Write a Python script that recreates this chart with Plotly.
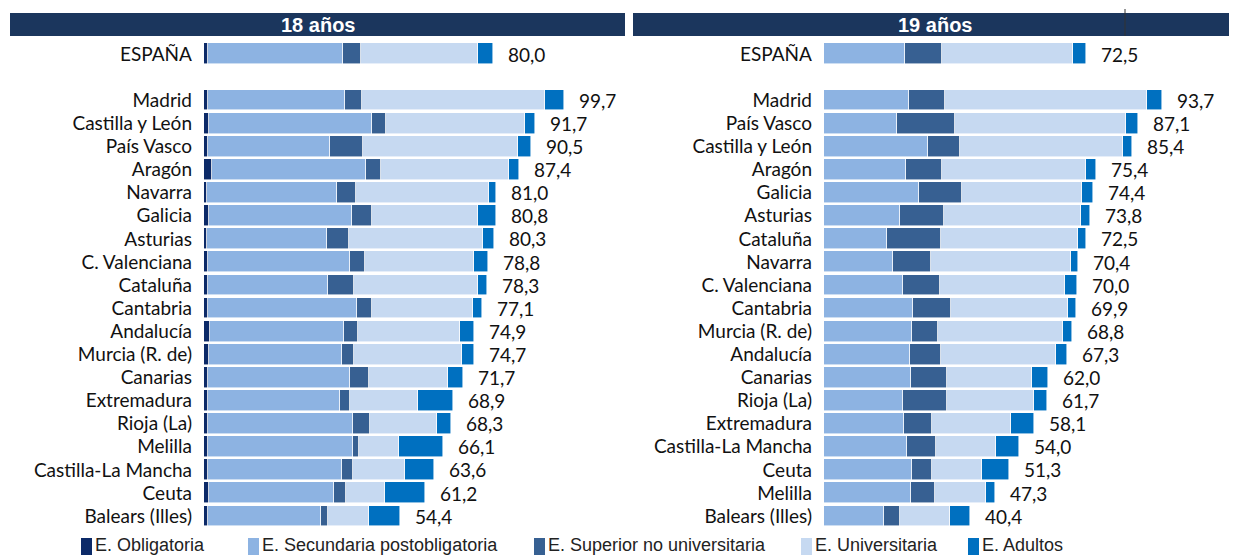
import plotly.graph_objects as go

# the page puts the figure 8px in from the top-left corner
OFF = 8
W, H = 1237 - OFF, 556 - OFF

# series / legend
segments = ["E. Obligatoria", "E. Secundaria postobligatoria", "E. Superior no universitaria",
            "E. Universitaria", "E. Adultos"]
colors = ["#0c2a68", "#8db3e2", "#376092", "#c6d9f1", "#0070c0"]

# 18 años
regions_18 = ["ESPAÑA", "Madrid", "Castilla y León", "País Vasco", "Aragón", "Navarra", "Galicia",
              "Asturias", "C. Valenciana", "Cataluña", "Cantabria", "Andalucía", "Murcia (R. de)",
              "Canarias", "Extremadura", "Rioja (La)", "Melilla", "Castilla-La Mancha", "Ceuta",
              "Balears (Illes)"]
oblig_18 = [1.2, 1.0, 1.3, 1.0, 2.3, 0.8, 1.4, 0.9, 1.2, 1.1, 1.2, 1.6, 1.5, 1.0, 1.1, 1.0, 1.0, 1.2, 1.4, 1.1]
sec_18 = [37.2, 38.1, 45.2, 34.0, 42.7, 36.0, 39.5, 33.1, 39.2, 33.3, 41.2, 37.1, 36.6, 39.5, 36.5, 40.3,
          40.2, 36.9, 34.7, 31.4]
sup_18 = [5.2, 4.7, 3.8, 9.1, 4.1, 5.3, 5.7, 6.2, 4.1, 7.1, 4.1, 3.9, 3.4, 5.3, 2.8, 4.7, 1.8, 3.2, 3.3, 1.8]
uni_18 = [32.2, 50.7, 38.6, 43.0, 35.4, 36.8, 29.4, 37.1, 30.3, 34.3, 28.1, 28.3, 29.9, 21.7, 18.8, 18.5,
          11.0, 14.4, 10.8, 11.3]
adu_18 = [4.2, 5.2, 2.8, 3.4, 2.9, 2.1, 4.8, 3.0, 4.0, 2.5, 2.5, 4.0, 3.3, 4.2, 9.7, 3.8, 12.1, 7.9, 11.0, 8.8]
total_18 = [80.0, 99.7, 91.7, 90.5, 87.4, 81.0, 80.8, 80.3, 78.8, 78.3, 77.1, 74.9, 74.7, 71.7, 68.9, 68.3,
            66.1, 63.6, 61.2, 54.4]

# 19 años
regions_19 = ["ESPAÑA", "Madrid", "País Vasco", "Castilla y León", "Aragón", "Galicia", "Asturias",
              "Cataluña", "Navarra", "C. Valenciana", "Cantabria", "Murcia (R. de)", "Andalucía",
              "Canarias", "Rioja (La)", "Extremadura", "Castilla-La Mancha", "Ceuta", "Melilla",
              "Balears (Illes)"]
oblig_19 = [0.0] * 20
sec_19 = [22.5, 23.5, 20.3, 28.9, 22.8, 26.4, 21.0, 17.5, 19.0, 22.0, 24.7, 24.3, 23.9, 24.1, 21.8, 22.2,
          23.0, 24.5, 24.1, 16.6]
sup_19 = [10.3, 10.0, 15.9, 8.8, 10.0, 11.9, 12.2, 14.8, 10.5, 10.2, 10.5, 7.2, 8.6, 10.0, 12.4, 7.8,
          8.0, 5.5, 6.7, 4.5]
uni_19 = [36.3, 56.0, 47.5, 45.0, 39.8, 33.2, 38.1, 38.1, 38.9, 34.6, 32.3, 34.8, 31.9, 23.4, 23.9, 21.9,
          16.7, 13.9, 14.0, 13.9]
adu_19 = [3.4, 4.2, 3.4, 2.7, 2.8, 2.9, 2.5, 2.1, 2.0, 3.2, 2.4, 2.5, 2.9, 4.5, 3.6, 6.2, 6.3, 7.4, 2.5, 5.4]
total_19 = [72.5, 93.7, 87.1, 85.4, 75.4, 74.4, 73.8, 72.5, 70.4, 70.0, 69.9, 68.8, 67.3, 62.0, 61.7,
            58.1, 54.0, 51.3, 47.3, 40.4]

# ESPAÑA row sits apart from the regions (one empty slot between)
pos = [-2] + list(range(len(regions_18) - 1))

LABEL_FONT = dict(family="Lato", size=19, color="#111111")


def px_x(x):
    # screen pixel -> paper
    return (x - OFF) / W


def px_y(y):
    return 1 - (y - OFF) / H


fig = go.Figure()

panels = [
    ("x", "y", [oblig_18, sec_18, sup_18, uni_18, adu_18]),
    ("x2", "y2", [oblig_19, sec_19, sup_19, uni_19, adu_19]),
]
for xa, ya, series in panels:
    for name, col, vals in zip(segments, colors, series):
        fig.add_trace(go.Bar(
            orientation="h", x=vals, y=pos, name=name, xaxis=xa, yaxis=ya,
            width=0.9, marker=dict(color=col, line=dict(color="rgba(255,255,255,0.7)", width=0.8)),
            showlegend=False, hoverinfo="skip",
        ))

# value labels
for xa, ya, totals in [("x", "y", total_18), ("x2", "y2", total_19)]:
    for p, t in zip(pos, totals):
        fig.add_annotation(x=t, y=p, xref=xa, yref=ya, text=f"{t:.1f}".replace(".", ","),
                           showarrow=False, xanchor="left", xshift=13, font=LABEL_FONT)

ydom = [px_y(530.0), px_y(40.2)]
yrange = [18.6, -2.6]
axis_common = dict(showgrid=False, zeroline=False, showline=False)
fig.update_layout(
    width=W, height=H, margin=dict(l=0, r=0, t=0, b=0),
    paper_bgcolor="white", plot_bgcolor="white", barmode="stack", bargap=0,
    xaxis=dict(domain=[px_x(204), px_x(622)], range=[0, 115.8], visible=False),
    xaxis2=dict(domain=[px_x(824), 1.0], range=[0, 114.4], visible=False),
    yaxis=dict(domain=ydom, range=yrange, anchor="x", tickvals=pos, ticktext=regions_18,
               ticks="", ticklabelstandoff=11, tickfont=LABEL_FONT, **axis_common),
    yaxis2=dict(domain=ydom, range=yrange, anchor="x2", tickvals=pos, ticktext=regions_19,
                ticks="", ticklabelstandoff=11, tickfont=LABEL_FONT, **axis_common),
)

# header bands
for x0, x1, title in [(10, 625, "18 años"), (633, 1237, "19 años")]:
    fig.add_shape(type="rect", xref="paper", yref="paper", x0=px_x(x0), x1=px_x(x1),
                  y0=px_y(36), y1=px_y(13), fillcolor="#1b365d", line_width=0, layer="below")
    fig.add_annotation(xref="paper", yref="paper", x=px_x((x0 + x1) / 2), y=px_y(24.5),
                       text=f"<b>{title}</b>", showarrow=False, xanchor="center", yanchor="middle",
                       font=dict(family="Liberation Sans", size=20, color="white"))
fig.add_shape(type="line", xref="paper", yref="paper", x0=px_x(1125), x1=px_x(1125),
              y0=px_y(36), y1=px_y(9), line=dict(color="#333333", width=1))

# legend drawn by hand (marker flush against text)
legend_x = [81, 248, 534, 801, 968]
for lx, name, col in zip(legend_x, segments, colors):
    fig.add_shape(type="rect", xref="paper", yref="paper", x0=px_x(lx), x1=px_x(lx + 11),
                  y0=px_y(555), y1=px_y(538), fillcolor=col, line_width=0)
    fig.add_annotation(xref="paper", yref="paper", x=px_x(lx + 12), y=px_y(545), text=name,
                       showarrow=False, xanchor="left", yanchor="middle",
                       font=dict(family="Liberation Sans", size=18, color="#222222"))

fig.write_html("out.html")
